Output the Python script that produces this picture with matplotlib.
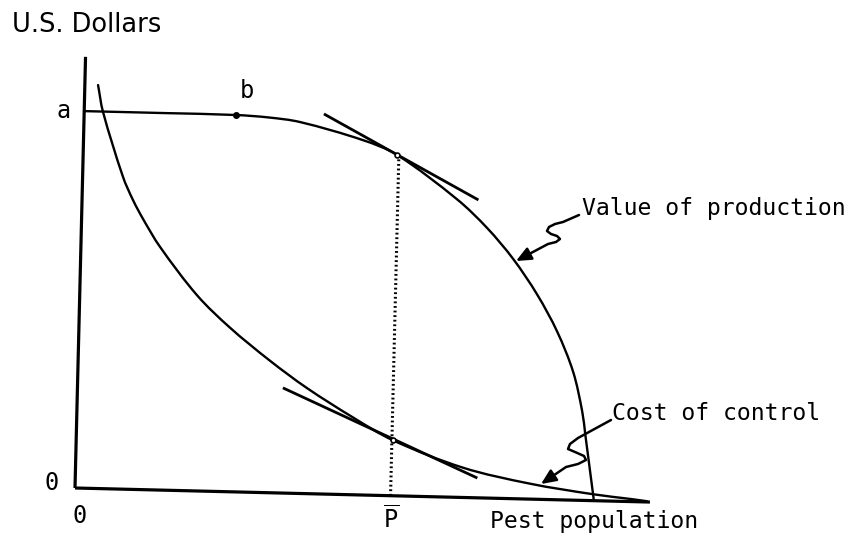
import math
import matplotlib
matplotlib.use("Agg")
import matplotlib.pyplot as plt
from matplotlib.transforms import Affine2D
from matplotlib.path import Path
from matplotlib.patches import FancyArrowPatch, ArrowStyle, PathPatch

W, H, DPI = 857, 542, 100

# ---- data (x: pest population, y: U.S. dollars, level a = 100) ----
value_x = [0, 15.38, 29.21, 35.58, 41.54, 53.75, 60.37, 72.12, 78.02, 83.15, 87.94, 91.96, 95.23, 97.15, 97.85, 99.65, 99.81]
value_y = [100.0, 100.0, 99.95, 99.5, 98.5, 94.1, 90.4, 79.0, 71.6, 63.6, 54.3, 44.6, 34.0, 23.6, 17.5, 1.5, 0]

cost_x = [2.54, 3.62, 7.77, 9.81, 11.81, 15.21, 22.56, 29.06, 36.90, 44.13, 53.13, 60.92, 74.50, 87.44, 99.65, 106.79, 110.0]
cost_y = [107.0, 99.9, 82.8, 76.7, 71.8, 64.5, 51.9, 43.5, 35.0, 28.0, 20.5, 14.7, 7.9, 4.1, 1.7, 0.7, 0.2]

upper_tangent_x = [46.1, 76.2]
upper_tangent_y = [100.8, 79.0]
lower_tangent_x = [39.5, 77.3]
lower_tangent_y = [27.9, 5.25]

p_bar = 60.7
p_bar_top = 90.4
point_b = (29.2, 100)
tangent_points_x = [60.4, 60.9]
tangent_points_y = [90.4, 14.7]

x_axis_end = 110.6
y_axis_top = 114.4

# ---- figure ----
plt.rcParams['mathtext.fontset'] = 'custom'
plt.rcParams['mathtext.rm'] = 'DejaVu Sans Mono'
MONO = 'DejaVu Sans Mono'

fig = plt.figure(figsize=(W / DPI, H / DPI), dpi=DPI)
fig.patch.set_facecolor('white')
ax = fig.add_axes([0, 0, 1, 1])
ox, oy = 75, 488          # origin in screen pixels
sx, sy = 5.2, 3.77        # pixels per data unit
ax.set_xlim(-ox / sx, (W - ox) / sx)
ax.set_ylim(-(H - oy) / sy, oy / sy)
ax.set_axis_off()

# slight scan tilt
rot = Affine2D().rotate_deg_around(ox, H - oy, -1.4)
T = ax.transData + rot


def smooth_curve(xs, ys, lw):
    """Smooth Bezier path through the given points (chord-length Hermite)."""
    pts = list(zip(xs, ys))
    n = len(pts)
    d = [math.hypot((pts[i + 1][0] - pts[i][0]) * sx, (pts[i + 1][1] - pts[i][1]) * sy)
         for i in range(n - 1)]
    tang = []
    for i in range(n):
        if i == 0:
            a, b, L = pts[0], pts[1], d[0]
        elif i == n - 1:
            a, b, L = pts[-2], pts[-1], d[-1]
        else:
            a, b, L = pts[i - 1], pts[i + 1], d[i - 1] + d[i]
        tang.append(((b[0] - a[0]) / L, (b[1] - a[1]) / L))
    verts = [pts[0]]
    codes = [Path.MOVETO]
    for i in range(n - 1):
        p1, p2 = pts[i], pts[i + 1]
        k = d[i] / 3
        c1 = (p1[0] + tang[i][0] * k, p1[1] + tang[i][1] * k)
        c2 = (p2[0] - tang[i + 1][0] * k, p2[1] - tang[i + 1][1] * k)
        verts += [c1, c2, p2]
        codes += [Path.CURVE4] * 3
    ax.add_patch(PathPatch(Path(verts, codes), fill=False, lw=lw, ec='black',
                           transform=T, clip_on=False, capstyle='round'))


kw = dict(transform=T, clip_on=False, color='black', solid_capstyle='butt')
ax.plot([0, 0], [0, y_axis_top], lw=2.3, **kw)
ax.plot([0, x_axis_end], [0, 0], lw=2.3, **kw)
smooth_curve(value_x, value_y, 1.7)
smooth_curve(cost_x, cost_y, 1.7)
ax.plot(upper_tangent_x, upper_tangent_y, lw=2.0, **kw)
ax.plot(lower_tangent_x, lower_tangent_y, lw=2.0, **kw)
ax.plot([p_bar, p_bar], [0, p_bar_top], lw=2.2, transform=T, clip_on=False,
        color='black', linestyle=(0, (0.6, 0.9)))
ax.plot([point_b[0]], [point_b[1]], marker='o', ms=4, transform=T, color='black', clip_on=False)
ax.plot(tangent_points_x, tangent_points_y, 'o', ms=3.5, mfc='white', mec='black', mew=1.2,
        transform=T, clip_on=False)

# screen-pixel transform for annotations
scr = Affine2D().scale(1, -1).translate(0, H)


def label(x, y, s, size=16.7, family=MONO, ha='left'):
    fig.text(x, y, s, transform=scr, fontsize=size, family=family, ha=ha, va='baseline', color='black')


label(12, 32, 'U.S. Dollars', size=18.5, family='DejaVu Sans')
label(64, 118, 'a', size=17, ha='center')
label(247, 98, 'b', size=17, ha='center')
label(52, 490, '0', size=17, ha='center')
label(80, 523, '0', size=17, ha='center')
label(391, 528, r'$\overline{\mathrm{P}}$', size=17, ha='center')
label(582, 215, 'Value of production')
label(612, 420, 'Cost of control')
label(490, 528, 'Pest population')


def squiggle(pts):
    arr = FancyArrowPatch(path=Path(pts), transform=scr,
                          arrowstyle=ArrowStyle('-|>', head_length=0.45, head_width=0.2),
                          mutation_scale=20, lw=1.8, color='black')
    fig.add_artist(arr)


squiggle([(579, 215), (563, 222), (555, 224), (549, 227), (547, 231), (551, 234), (557, 236),
          (560, 239), (556, 242), (548, 244), (516, 261)])
squiggle([(611, 420), (589, 432), (578, 438), (570, 444), (568, 449), (575, 452), (584, 456),
          (586, 460), (578, 464), (566, 467), (541, 484)])

fig.savefig('out.png', dpi=DPI, facecolor='white')
